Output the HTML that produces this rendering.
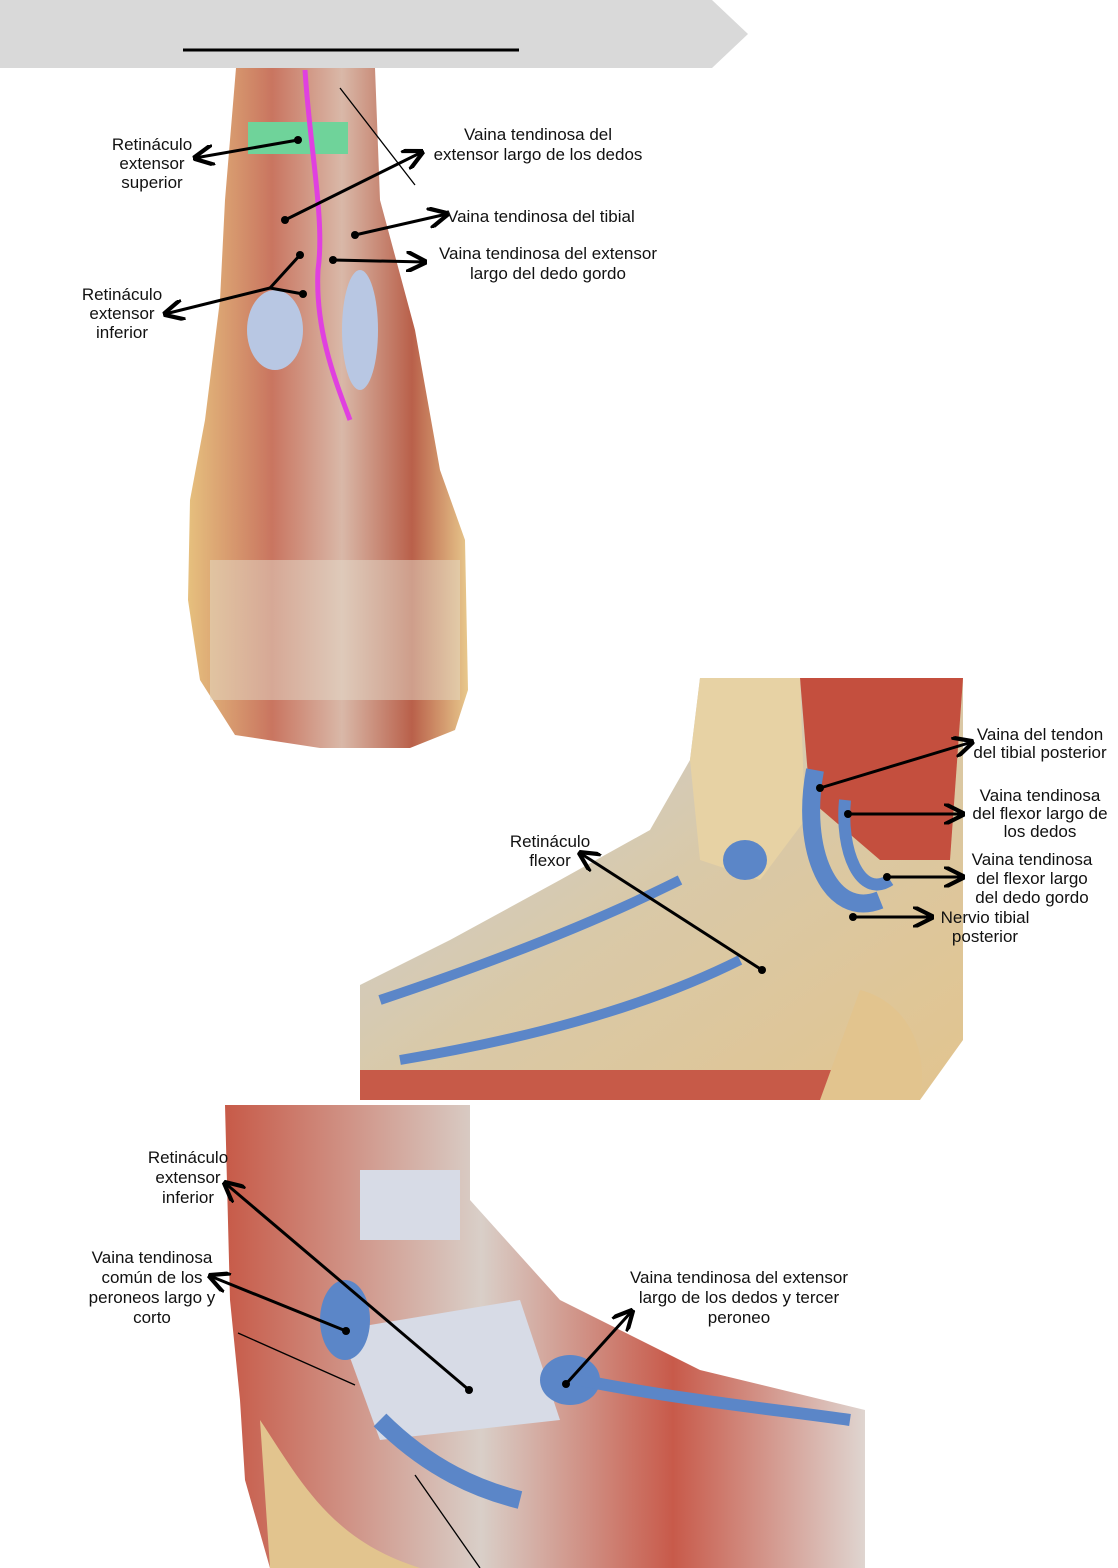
<!DOCTYPE html>
<html><head><meta charset="utf-8"><style>
html,body{margin:0;padding:0;background:#fff}
svg{display:block}
text{font-family:"Liberation Sans",sans-serif;font-size:17px;fill:#111}
</style></head><body>
<svg width="1118" height="1568" viewBox="0 0 1118 1568" xmlns="http://www.w3.org/2000/svg">
<defs>
<marker id="a" viewBox="0 0 10 10" refX="9" refY="5" markerWidth="7" markerHeight="7" orient="auto"><path d="M0,0 L10,5 L0,10" fill="none" stroke="#000" stroke-width="2"/></marker>
<linearGradient id="g1" x1="0" y1="0" x2="1" y2="0"><stop offset="0" stop-color="#e6c07e"/><stop offset=".3" stop-color="#c97560"/><stop offset=".55" stop-color="#d9b8a8"/><stop offset=".8" stop-color="#b9604a"/><stop offset="1" stop-color="#e8c88c"/></linearGradient>
<linearGradient id="g2" x1="0" y1="0" x2="1" y2="1"><stop offset="0" stop-color="#c8cfe0"/><stop offset=".5" stop-color="#d9c9a8"/><stop offset="1" stop-color="#e2c48e"/></linearGradient>
<linearGradient id="g3" x1="0" y1="0" x2="1" y2="0"><stop offset="0" stop-color="#c75a48"/><stop offset=".4" stop-color="#d9cfc8"/><stop offset=".7" stop-color="#c85a4a"/><stop offset="1" stop-color="#dfd5d0"/></linearGradient>
</defs>
<!-- banner -->
<polygon points="0,0 712,0 748,34 712,68 0,68" fill="#d9d9d9"/>
<line x1="183" y1="50" x2="519" y2="50" stroke="#000" stroke-width="3"/>

<!-- image 1 -->
<path d="M236,68 L375,68 L380,200 L415,330 L440,470 L465,540 L468,690 L455,730 L410,748 L320,748 L235,735 L200,680 L188,600 L190,500 L205,420 L220,300 L225,200 Z" fill="url(#g1)"/>
<rect x="248" y="122" width="100" height="32" fill="#6fd39a"/>
<path d="M305,70 C310,150 325,220 318,270 C315,330 335,380 350,420" stroke="#e040e0" stroke-width="5" fill="none"/>
<ellipse cx="275" cy="330" rx="28" ry="40" fill="#b8c7e3"/>
<ellipse cx="360" cy="330" rx="18" ry="60" fill="#b8c7e3"/>
<path d="M210,560 L460,560 L460,700 L210,700 Z" fill="#e3dccb" opacity=".5"/>

<!-- image 2 -->
<path d="M360,985 L450,940 L560,880 L650,830 L690,760 L700,678 L963,678 L963,1040 L920,1100 L360,1100 Z" fill="url(#g2)"/>
<path d="M800,678 L963,678 L950,860 L880,860 L810,800 Z" fill="#c44f3e"/>
<path d="M700,678 L800,678 L805,820 L760,880 L700,860 L690,760 Z" fill="#e7d2a4"/>
<ellipse cx="745" cy="860" rx="22" ry="20" fill="#5b86c8"/>
<path d="M815,770 C800,850 830,920 880,900" stroke="#5b86c8" stroke-width="18" fill="none"/>
<path d="M845,800 C840,850 860,900 890,880" stroke="#5b86c8" stroke-width="12" fill="none"/>
<path d="M380,1000 C500,960 600,920 680,880" stroke="#5b86c8" stroke-width="10" fill="none"/>
<path d="M400,1060 C520,1040 640,1010 740,960" stroke="#5b86c8" stroke-width="10" fill="none"/>
<rect x="360" y="1070" width="560" height="30" fill="#c75a48"/>
<path d="M860,990 C900,1000 930,1040 920,1100 L820,1100 Z" fill="#e2c48e"/>

<!-- image 3 -->
<path d="M225,1105 L470,1105 L470,1200 L560,1300 L700,1370 L865,1410 L865,1568 L270,1568 L245,1480 L240,1400 L230,1300 Z" fill="url(#g3)"/>
<rect x="360" y="1170" width="100" height="70" fill="#d7dbe6"/>
<path d="M340,1330 L520,1300 L560,1420 L380,1440 Z" fill="#d7dbe6"/>
<ellipse cx="345" cy="1320" rx="25" ry="40" fill="#5b86c8"/>
<ellipse cx="570" cy="1380" rx="30" ry="25" fill="#5b86c8"/>
<path d="M380,1420 C430,1470 480,1490 520,1500" stroke="#5b86c8" stroke-width="18" fill="none"/>
<path d="M260,1420 C300,1480 330,1540 420,1568 L270,1568 Z" fill="#e2c48e"/>
<path d="M580,1380 C680,1400 780,1410 850,1420" stroke="#5b86c8" stroke-width="12" fill="none"/>

<!-- labels & arrows image 1 -->
<g stroke="#000" stroke-width="3" fill="none">
<line x1="298" y1="140" x2="195" y2="158" marker-end="url(#a)"/>
<line x1="285" y1="220" x2="422" y2="152" marker-end="url(#a)"/>
<line x1="355" y1="235" x2="447" y2="214" marker-end="url(#a)"/>
<line x1="333" y1="260" x2="425" y2="262" marker-end="url(#a)"/>
<polyline points="300,255 270,288 303,294"/>
<line x1="270" y1="288" x2="165" y2="314" marker-end="url(#a)"/>
<line x1="820" y1="788" x2="972" y2="742" marker-end="url(#a)"/>
<line x1="848" y1="814" x2="963" y2="814" marker-end="url(#a)"/>
<line x1="887" y1="877" x2="963" y2="877" marker-end="url(#a)"/>
<line x1="853" y1="917" x2="932" y2="917" marker-end="url(#a)"/>
<line x1="762" y1="970" x2="580" y2="853" marker-end="url(#a)"/>
<line x1="346" y1="1331" x2="210" y2="1276" marker-end="url(#a)"/>
<line x1="469" y1="1390" x2="225" y2="1183" marker-end="url(#a)"/>
<line x1="566" y1="1384" x2="632" y2="1311" marker-end="url(#a)"/>
</g>
<g stroke="#000" stroke-width="1.3">
<line x1="340" y1="88" x2="415" y2="185"/>
<line x1="238" y1="1333" x2="355" y2="1385"/>
<line x1="415" y1="1475" x2="480" y2="1568"/>
</g>
<g fill="#000">
<circle cx="298" cy="140" r="4"/><circle cx="285" cy="220" r="4"/><circle cx="355" cy="235" r="4"/><circle cx="333" cy="260" r="4"/><circle cx="300" cy="255" r="4"/><circle cx="303" cy="294" r="4"/>
<circle cx="820" cy="788" r="4"/><circle cx="848" cy="814" r="4"/><circle cx="887" cy="877" r="4"/><circle cx="853" cy="917" r="4"/><circle cx="762" cy="970" r="4"/>
<circle cx="346" cy="1331" r="4"/><circle cx="469" cy="1390" r="4"/><circle cx="566" cy="1384" r="4"/>
</g>

<g text-anchor="middle">
<text x="152" y="150">Retináculo</text><text x="152" y="169">extensor</text><text x="152" y="188">superior</text>
<text x="538" y="140">Vaina tendinosa del</text><text x="538" y="160">extensor largo de los dedos</text>
<text x="122" y="300">Retináculo</text><text x="122" y="319">extensor</text><text x="122" y="338">inferior</text>
<text x="548" y="259">Vaina tendinosa del extensor</text><text x="548" y="279">largo del dedo gordo</text>
<text x="1040" y="740">Vaina del tendon</text><text x="1040" y="758">del tibial posterior</text>
<text x="1040" y="801">Vaina tendinosa</text><text x="1040" y="819">del flexor largo de</text><text x="1040" y="837">los dedos</text>
<text x="1032" y="865">Vaina tendinosa</text><text x="1032" y="884">del flexor largo</text><text x="1032" y="903">del dedo gordo</text>
<text x="985" y="923">Nervio tibial</text><text x="985" y="942">posterior</text>
<text x="550" y="847">Retináculo</text><text x="550" y="866">flexor</text>
<text x="188" y="1163">Retináculo</text><text x="188" y="1183">extensor</text><text x="188" y="1203">inferior</text>
<text x="152" y="1263">Vaina tendinosa</text><text x="152" y="1283">común de los</text><text x="152" y="1303">peroneos largo y</text><text x="152" y="1323">corto</text>
<text x="739" y="1283">Vaina tendinosa del extensor</text><text x="739" y="1303">largo de los dedos y tercer</text><text x="739" y="1323">peroneo</text>
</g>
<text x="447" y="222">Vaina tendinosa del tibial</text>
</svg>
</body></html>
